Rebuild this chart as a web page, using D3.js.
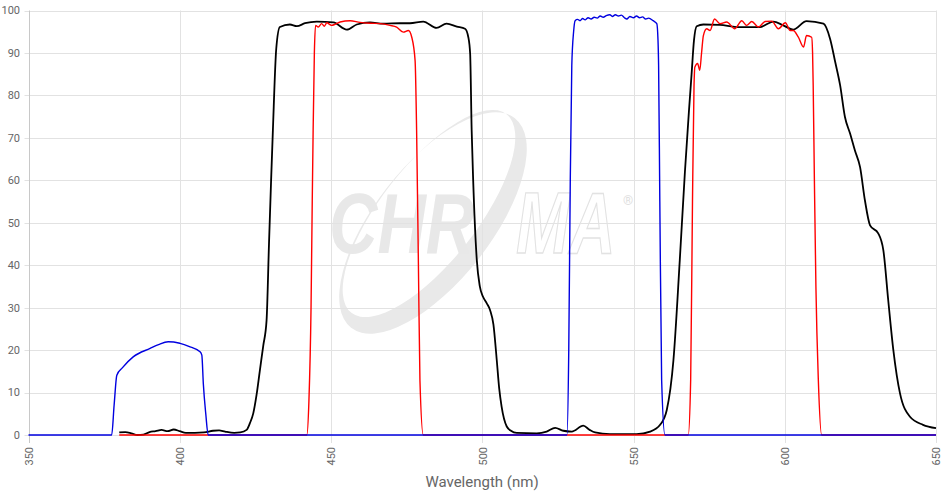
<!DOCTYPE html>
<html><head><meta charset="utf-8">
<script src="https://cdn.jsdelivr.net/npm/d3@7"></script>
<style>html,body{margin:0;padding:0;background:#fff;}svg{display:block;font-family:Roboto,"Liberation Sans",Arial,sans-serif;}</style>
</head><body><svg id="c" width="951" height="497"></svg>
<script>
const xTicks = [350,400,450,500,550,600,650];
const yTicks = [0,10,20,30,40,50,60,70,80,90,100];
const xTitle = "Wavelength (nm)";

const blackWl = [380,382,384,386,388,390,392,394,396,398,400,402,405,408,411,413,415,418,420,422.1,423.2,424.3,425.4,426.5,427.6,428.7,429.5,430.2,430.8,431.9,433.1,436.4,438.7,441.4,445.3,450.8,455.2,458.5,462.9,467.3,472.8,476.1,480.5,484.9,488.2,491.6,494.3,495.4,496.0,496.5,497,498.2,499.2,500.3,501.5,502.6,503.7,504.8,505.6,506.4,508.1,509.5,511.4,518,521.3,524.1,526.8,529.6,533.4,535.5,537.3,542.2,551,555.5,558.8,561,563.2,565.3,567,568.3,569.2,570.0,570.9,573.1,578.6,584.1,591.8,596.2,599.5,602.8,607.2,612.8,615,616.7,618.3,619.9,621.6,623.2,624.9,626.5,628.2,630.9,632.6,634.2,635.9,638.1,641.4,645.7,650];
const blackVal = [0.6,0.7,0.4,0.0,0.1,0.7,0.9,1.2,0.9,1.3,0.9,0.5,0.5,0.6,1.0,1.1,0.8,0.5,0.6,1.2,2.8,5.1,9.5,15.3,21,27,45,60,72,91,96.1,96.7,96.3,97.0,97.4,97.2,95.5,96.7,97.2,96.9,97.0,97.0,97.4,95.9,96.9,96.2,95.7,93.7,89.8,71.8,60,41.2,35,32.5,31,29.4,26,17.6,11,6.7,2,1,0.5,0.4,0.8,1.7,1.0,0.8,2.2,1.2,0.6,0.2,0.2,0.8,2.4,5.9,17.6,41.2,62,76,85,93,96.3,96.7,96.6,96.1,96.1,97.4,96.5,95.5,97.5,96.9,93.3,87.8,82.4,74.9,71,67,63.1,55.3,49.4,47.5,43.5,31.8,20,9.8,4.3,2.4,1.6];

const blueWl = [350,377.5,378.3,379.2,381,384.6,390.2,393,396.2,398,400.1,403,406.7,407.3,407.8,408.6,409.4,528,528.6,529.1,529.6,530.2,530.7,531.5,532.3,533.2,534,535,536,537,538,539,540,541,542.2,543,544,545,546,547,547.8,548.8,550,551,552,553,554,555,556.5,557.7,558.1,558.3,558.7,559.3,560.4,650];
const blueVal = [0,0,7,14.1,15.8,18.4,20.4,21.3,21.95,21.9,21.6,20.9,19.6,18.8,12,5,0,0,20,60,87,95,97.6,97.9,97.6,98.1,97.8,98.3,98.0,98.4,98.2,98.7,98.4,98.8,99.0,98.6,99.0,98.7,98.9,98.3,98.0,98.6,98.3,98.7,98.3,98.5,98.0,98.2,97.6,96.9,93,87,55,13,0,0];

const redWl = [380,442,442.7,443.4,443.8,444.1,444.5,444.9,445.8,446.9,447.8,448.6,450.2,451.5,453,456.3,459.6,462.9,466.2,469.5,471.7,473.9,475.6,476.7,477.8,478.3,478.9,479.4,480.5,568.1,568.9,569.5,570.0,570.3,571.2,571.9,572.5,573.1,574.2,575.3,576.8,578.6,580.8,583.5,585.8,587.4,589.1,591.3,593.5,595.7,597.9,600.2,601.8,602.8,604.5,606.2,607.2,608.9,609.2,609.4,609.8,610.3,611.1,612.2,650];
const redVal = [0,0,8,30,55,72,90,96.5,96.1,96.9,96.3,97.1,96.5,96.8,97.3,97.6,97.2,97,96.9,96.5,96.1,94.9,95.3,93.7,88.2,71.8,40,12.9,0,0,13,55,82,86.7,87.5,85.9,90,94.1,95.7,95.3,98,96.9,97.3,95.7,97.6,96.5,97.4,96.1,97.4,97.5,95.7,97.1,95.3,95.3,93.7,91.4,94.1,93.7,90,82.4,60,35,13,0,0];

const svg = d3.select("#c");
const L = 28.5, R = 936, T = 10.5, B = 435;
const x = d3.scaleLinear().domain([350,650]).range([L,R]);
const y = d3.scaleLinear().domain([0,100]).range([B,T]);

// watermark
const wm = svg.append("g");
const cx = 433, cy = 223;
const e = (ccx,ccy,rx,ry) => `M${ccx-rx},${ccy} a${rx},${ry} 0 1,0 ${2*rx},0 a${rx},${ry} 0 1,0 ${-2*rx},0 Z`;
wm.append("path")
  .attr("d", e(0,0,58,133) + e(-9,-5,48,126))
  .attr("transform", `translate(${cx},${cy}) rotate(38)`)
  .attr("fill", "#e9e9e9").attr("fill-rule","evenodd");
wm.append("text").attr("transform", "translate(329,253) scale(1,1.28)").text("CHR")
  .attr("font-family","'Liberation Sans',Arial,sans-serif").attr("font-weight","bold").attr("font-style","italic")
  .attr("font-size", 67)
  .attr("fill", "#e8e8e8");
wm.append("text").attr("transform", "translate(516,253) scale(1,1.36)").text("MA")
  .attr("font-family","'Liberation Sans',Arial,sans-serif").attr("font-weight","bold").attr("font-style","italic")
  .attr("font-size", 64)
  .attr("fill", "none").attr("stroke","#e2e2e2").attr("stroke-width",1);
wm.append("text").attr("x", 623).attr("y", 205).text("®")
  .attr("font-size", 13).attr("fill","#e0e0e0");

// grid
const g = svg.append("g");
g.selectAll("line.h").data(yTicks).join("line")
  .attr("x1", L-4).attr("x2", R).attr("y1", d=>Math.round(y(d))+0.5).attr("y2", d=>Math.round(y(d))+0.5)
  .attr("stroke", "#e2e2e2").attr("stroke-width",1);
g.selectAll("line.v").data(xTicks).join("line")
  .attr("x1", d=>Math.round(x(d))+0.5).attr("x2", d=>Math.round(x(d))+0.5).attr("y1", T).attr("y2", B+8)
  .attr("stroke", d=> d===350 ? "#c8c8c8" : "#e2e2e2").attr("stroke-width",1);

// axes labels
svg.append("g").selectAll("text").data(yTicks).join("text")
  .attr("x", 20).attr("y", d=>y(d)).attr("dy","0.35em").attr("text-anchor","end")
  .attr("font-size", 11).attr("fill","#666").text(d=>d);
svg.append("g").selectAll("text").data(xTicks).join("text")
  .attr("transform", d=>`translate(${x(d)+0.5},447) rotate(-90)`)
  .attr("dy","0.35em").attr("text-anchor","end")
  .attr("font-size", 11).attr("fill","#666").text(d=>d);
svg.append("text").attr("x", 482).attr("y", 487).attr("text-anchor","middle")
  .attr("font-size", 15).attr("fill","#666").text(xTitle);

// lines
const line = d3.line().x(d=>x(d[0])).y(d=>y(d[1])).curve(d3.curveMonotoneX);
const mk = (wl, v) => wl.map((w,i)=>[w, v[i]]);
svg.append("path").datum(mk(blackWl,blackVal)).attr("d", line).attr("fill","none").attr("stroke","#000").attr("stroke-width",1.8);
svg.append("path").datum(mk(redWl,redVal)).attr("d", line).attr("fill","none").attr("stroke","#ff0000").attr("stroke-width",1.4);
svg.append("path").datum(mk(blueWl,blueVal)).attr("d", line).attr("fill","none").attr("stroke","#0000e0").attr("stroke-width",1.4);
</script></body></html>
